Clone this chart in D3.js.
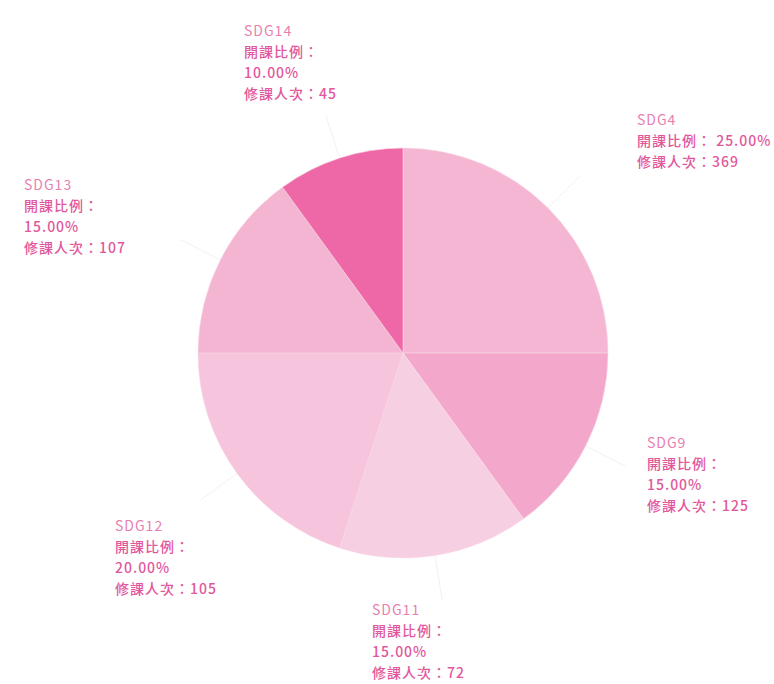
<!DOCTYPE html>
<html>
<head>
<meta charset="utf-8">
<script src="https://cdn.jsdelivr.net/npm/d3@7"></script>
<style>
html,body{margin:0;padding:0;background:#fff;}
svg{display:block;}
</style>
</head>
<body>
<svg id="chart" width="774" height="684"></svg>
<script>
// ---- data ----
const categories = ["SDG4", "SDG9", "SDG11", "SDG12", "SDG13", "SDG14"];
const ratios = [25.00, 15.00, 15.00, 20.00, 15.00, 10.00];   // 開課比例 (%)
const enrollments = [369, 125, 72, 105, 107, 45];              // 修課人次
const ratioLabel = "開課比例：";
const countLabel = "修課人次：";

// ---- styles / layout (not data) ----
const colors = ["#f5b6d3", "#f2a7cb", "#f7cfe2", "#f6c4dc", "#f4b5d2", "#ee67a7"];
const labelPos = [
  {x: 637, y: 121, inline: true},
  {x: 647, y: 444},
  {x: 372, y: 611},
  {x: 115, y: 527},
  {x: 24,  y: 186},
  {x: 244, y: 32}
];
const cx = 403, cy = 353, R = 205;

const svg = d3.select("#chart");
const g = svg.append("g").attr("transform", `translate(${cx},${cy})`);

const pie = d3.pie().sort(null).value(d => d.v);
const data = categories.map((c, i) => ({c, v: ratios[i], n: enrollments[i], i}));
const arcs = pie(data);
const arc = d3.arc().innerRadius(0).outerRadius(R);

g.selectAll("path.slice").data(arcs).enter().append("path")
  .attr("class", "slice")
  .attr("d", arc)
  .attr("fill", d => colors[d.data.i])
  .attr("stroke", "#f9d6e6")
  .attr("stroke-width", 0.6);

// faint leader lines
const lineArcIn = d3.arc().innerRadius(R).outerRadius(R);
const lineArcOut = d3.arc().innerRadius(R + 45).outerRadius(R + 45);
g.selectAll("polyline.lead").data(arcs).enter().append("polyline")
  .attr("class", "lead")
  .attr("fill", "none")
  .attr("stroke", "#f5f0f2")
  .attr("stroke-width", 1)
  .attr("points", d => {
    const a = lineArcIn.centroid(d), b = lineArcOut.centroid(d);
    return [a, b].map(p => p.join(",")).join(" ");
  });

// labels
const lh = 21;
const labels = svg.append("g")
  .attr("font-family", "'Noto Sans CJK TC','Noto Sans',sans-serif")
  .attr("font-size", 14)
  .attr("letter-spacing", 1)
  .attr("fill", "#e2579c");

data.forEach((d, i) => {
  const p = labelPos[i];
  const lines = p.inline
    ? [d.c, `${ratioLabel} ${d.v.toFixed(2)}%`, `${countLabel}${d.n}`]
    : [d.c, ratioLabel, `${d.v.toFixed(2)}%`, `${countLabel}${d.n}`];
  const t = labels.append("text")
    .attr("x", p.x).attr("y", p.y)
    .attr("dominant-baseline", "middle");
  lines.forEach((ln, k) => {
    t.append("tspan")
      .attr("x", p.x)
      .attr("y", p.y + k * lh)
      .attr("fill", k === 0 ? "#e77fb1" : "#e2579c")
      .attr("font-weight", k === 0 ? 400 : 500)
      .text(ln);
  });
});
</script>
</body>
</html>
